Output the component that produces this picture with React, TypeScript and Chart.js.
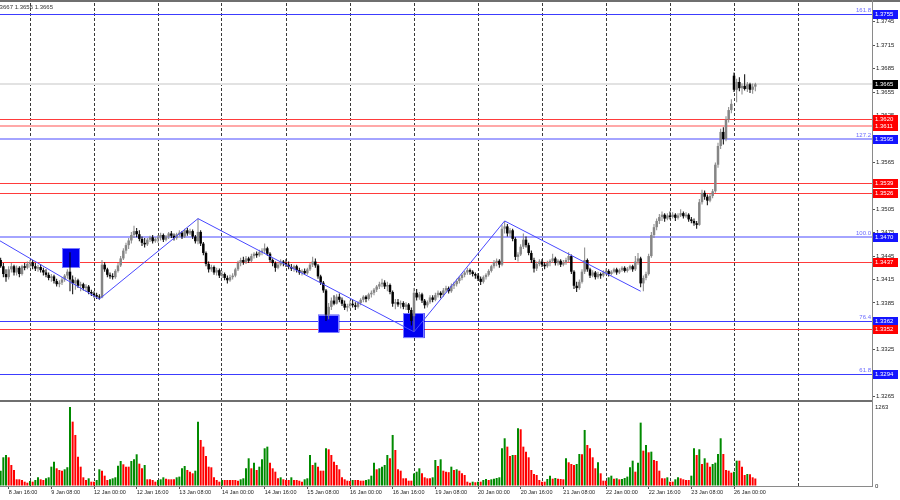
import React, { useEffect, useRef } from 'react';
import { Chart, registerables } from 'chart.js';
Chart.register(...registerables);

type OHLC = [number, number, number, number]; // open, high, low, close

// Hourly candles, first bar = 8 Jan 12:00 (bar index 0), one array per trading day
const jan08: OHLC[] = [
  [1.3446,1.3450,1.3438,1.3440],[1.3440,1.3443,1.3430,1.3432],[1.3432,1.3436,1.3418,1.3422],[1.3422,1.3428,1.3412,1.3418],
  [1.3418,1.3432,1.3415,1.3428],[1.3428,1.3436,1.3424,1.3432],[1.3432,1.3434,1.3420,1.3424],[1.3424,1.3433,1.3420,1.3430],
  [1.3430,1.3432,1.3418,1.3422],[1.3422,1.3434,1.3420,1.3432],[1.3432,1.3436,1.3427,1.3430],[1.3430,1.3438,1.3428,1.3435],
];
const jan09: OHLC[] = [
  [1.3435,1.3440,1.3430,1.3437],[1.3437,1.3440,1.3428,1.3432],[1.3432,1.3436,1.3426,1.3429],[1.3429,1.3434,1.3425,1.3431],
  [1.3431,1.3435,1.3424,1.3427],[1.3427,1.3430,1.3420,1.3424],[1.3424,1.3428,1.3418,1.3421],[1.3421,1.3424,1.3414,1.3417],
  [1.3417,1.3422,1.3412,1.3419],[1.3419,1.3421,1.3410,1.3413],[1.3413,1.3416,1.3406,1.3409],[1.3409,1.3414,1.3405,1.3411],
  [1.3411,1.3418,1.3408,1.3415],[1.3415,1.3422,1.3412,1.3420],[1.3420,1.3428,1.3416,1.3425],[1.3425,1.3450,1.3400,1.3415],
  [1.3415,1.3420,1.3396,1.3410],[1.3410,1.3418,1.3402,1.3414],[1.3414,1.3416,1.3404,1.3407],[1.3407,1.3412,1.3400,1.3409],
  [1.3409,1.3411,1.3401,1.3404],[1.3404,1.3409,1.3399,1.3406],[1.3406,1.3408,1.3396,1.3399],[1.3399,1.3402,1.3394,1.3397],
];
const jan12: OHLC[] = [
  [1.3397,1.3400,1.3392,1.3395],[1.3395,1.3398,1.3390,1.3393],[1.3393,1.3396,1.3389,1.3392],[1.3392,1.3440,1.3391,1.3434],
  [1.3434,1.3437,1.3425,1.3428],[1.3428,1.3430,1.3418,1.3421],[1.3421,1.3424,1.3416,1.3419],[1.3419,1.3423,1.3415,1.3418],
  [1.3418,1.3428,1.3416,1.3426],[1.3426,1.3436,1.3424,1.3433],[1.3433,1.3445,1.3431,1.3442],[1.3442,1.3455,1.3440,1.3452],
  [1.3452,1.3462,1.3448,1.3459],[1.3459,1.3468,1.3454,1.3465],[1.3465,1.3476,1.3461,1.3472],[1.3472,1.3484,1.3468,1.3477],
  [1.3477,1.3481,1.3469,1.3473],[1.3473,1.3478,1.3464,1.3467],[1.3467,1.3470,1.3458,1.3462],[1.3462,1.3468,1.3456,1.3460],
  [1.3460,1.3468,1.3458,1.3466],[1.3466,1.3471,1.3463,1.3469],[1.3469,1.3472,1.3461,1.3464],[1.3464,1.3469,1.3462,1.3467],
];
const jan13: OHLC[] = [
  [1.3467,1.3472,1.3462,1.3469],[1.3469,1.3475,1.3465,1.3472],[1.3472,1.3474,1.3463,1.3466],[1.3466,1.3472,1.3464,1.3470],
  [1.3470,1.3476,1.3467,1.3474],[1.3474,1.3477,1.3468,1.3471],[1.3471,1.3474,1.3465,1.3468],[1.3468,1.3475,1.3466,1.3473],
  [1.3473,1.3478,1.3470,1.3475],[1.3475,1.3477,1.3467,1.3470],[1.3470,1.3480,1.3468,1.3478],[1.3478,1.3481,1.3471,1.3474],
  [1.3474,1.3480,1.3472,1.3477],[1.3477,1.3479,1.3467,1.3470],[1.3470,1.3472,1.3461,1.3464],[1.3464,1.3493,1.3460,1.3476],
  [1.3476,1.3478,1.3458,1.3461],[1.3461,1.3463,1.3446,1.3449],[1.3449,1.3451,1.3432,1.3435],[1.3435,1.3438,1.3424,1.3428],
  [1.3428,1.3434,1.3425,1.3431],[1.3431,1.3433,1.3421,1.3424],[1.3424,1.3430,1.3420,1.3427],[1.3427,1.3429,1.3417,1.3420],
];
const jan14: OHLC[] = [
  [1.3420,1.3426,1.3417,1.3422],[1.3422,1.3424,1.3414,1.3417],[1.3417,1.3420,1.3410,1.3414],[1.3414,1.3421,1.3412,1.3418],
  [1.3418,1.3423,1.3415,1.3420],[1.3420,1.3430,1.3418,1.3428],[1.3428,1.3439,1.3426,1.3436],[1.3436,1.3443,1.3432,1.3440],
  [1.3440,1.3444,1.3434,1.3437],[1.3437,1.3445,1.3435,1.3442],[1.3442,1.3444,1.3436,1.3439],[1.3439,1.3448,1.3437,1.3445],
  [1.3445,1.3450,1.3442,1.3448],[1.3448,1.3451,1.3443,1.3446],[1.3446,1.3453,1.3444,1.3450],[1.3450,1.3455,1.3446,1.3452],
  [1.3452,1.3461,1.3448,1.3455],[1.3455,1.3457,1.3445,1.3448],[1.3448,1.3450,1.3437,1.3440],[1.3440,1.3442,1.3432,1.3436],
  [1.3436,1.3438,1.3425,1.3430],[1.3430,1.3437,1.3428,1.3434],[1.3434,1.3441,1.3432,1.3438],[1.3438,1.3440,1.3432,1.3436],
];
const jan15: OHLC[] = [
  [1.3436,1.3441,1.3431,1.3434],[1.3434,1.3438,1.3428,1.3431],[1.3431,1.3435,1.3426,1.3429],[1.3429,1.3434,1.3425,1.3432],
  [1.3432,1.3434,1.3424,1.3427],[1.3427,1.3430,1.3421,1.3424],[1.3424,1.3428,1.3420,1.3426],[1.3426,1.3429,1.3421,1.3423],
  [1.3423,1.3430,1.3421,1.3428],[1.3428,1.3436,1.3426,1.3434],[1.3434,1.3444,1.3431,1.3438],[1.3438,1.3442,1.3430,1.3433],
  [1.3433,1.3435,1.3416,1.3419],[1.3419,1.3421,1.3408,1.3411],[1.3411,1.3413,1.3398,1.3401],[1.3401,1.3403,1.3362,1.3370],
  [1.3370,1.3385,1.3364,1.3380],[1.3380,1.3392,1.3376,1.3388],[1.3388,1.3395,1.3382,1.3384],[1.3384,1.3396,1.3383,1.3393],
  [1.3393,1.3397,1.3386,1.3389],[1.3389,1.3392,1.3381,1.3384],[1.3384,1.3388,1.3376,1.3379],[1.3379,1.3384,1.3374,1.3381],
];
const jan16: OHLC[] = [
  [1.3381,1.3388,1.3378,1.3384],[1.3384,1.3389,1.3379,1.3382],[1.3382,1.3386,1.3376,1.3380],[1.3380,1.3387,1.3378,1.3385],
  [1.3385,1.3391,1.3382,1.3389],[1.3389,1.3395,1.3386,1.3393],[1.3393,1.3395,1.3386,1.3390],[1.3390,1.3398,1.3388,1.3396],
  [1.3396,1.3401,1.3392,1.3398],[1.3398,1.3404,1.3395,1.3402],[1.3402,1.3408,1.3399,1.3406],[1.3406,1.3412,1.3403,1.3409],
  [1.3409,1.3416,1.3405,1.3411],[1.3411,1.3414,1.3403,1.3406],[1.3406,1.3412,1.3400,1.3408],[1.3408,1.3410,1.3396,1.3399],
  [1.3399,1.3401,1.3380,1.3384],[1.3384,1.3390,1.3377,1.3386],[1.3386,1.3390,1.3380,1.3383],[1.3383,1.3388,1.3378,1.3385],
  [1.3385,1.3387,1.3377,1.3380],[1.3380,1.3386,1.3376,1.3383],[1.3383,1.3385,1.3372,1.3376],[1.3376,1.3379,1.3356,1.3362],
];
const jan19: OHLC[] = [
  [1.3368,1.3404,1.3348,1.3398],[1.3398,1.3403,1.3388,1.3392],[1.3392,1.3399,1.3389,1.3396],[1.3396,1.3398,1.3385,1.3388],
  [1.3388,1.3390,1.3378,1.3382],[1.3382,1.3388,1.3379,1.3386],[1.3386,1.3395,1.3384,1.3392],[1.3392,1.3395,1.3386,1.3389],
  [1.3389,1.3398,1.3387,1.3395],[1.3395,1.3401,1.3392,1.3398],[1.3398,1.3400,1.3391,1.3395],[1.3395,1.3404,1.3393,1.3401],
  [1.3401,1.3407,1.3398,1.3404],[1.3404,1.3406,1.3397,1.3400],[1.3400,1.3410,1.3398,1.3407],[1.3407,1.3412,1.3403,1.3409],
  [1.3409,1.3416,1.3406,1.3413],[1.3413,1.3419,1.3410,1.3417],[1.3417,1.3423,1.3414,1.3421],[1.3421,1.3426,1.3418,1.3424],
  [1.3424,1.3430,1.3421,1.3427],[1.3427,1.3429,1.3421,1.3425],[1.3425,1.3427,1.3419,1.3422],[1.3422,1.3424,1.3416,1.3420],
];
const jan20: OHLC[] = [
  [1.3420,1.3423,1.3413,1.3416],[1.3416,1.3419,1.3408,1.3412],[1.3412,1.3420,1.3410,1.3418],[1.3418,1.3423,1.3415,1.3421],
  [1.3421,1.3428,1.3419,1.3426],[1.3426,1.3434,1.3424,1.3432],[1.3432,1.3440,1.3429,1.3437],[1.3437,1.3442,1.3432,1.3439],
  [1.3439,1.3441,1.3430,1.3434],[1.3434,1.3485,1.3432,1.3480],[1.3480,1.3490,1.3474,1.3483],[1.3483,1.3486,1.3470,1.3474],
  [1.3474,1.3481,1.3470,1.3478],[1.3478,1.3480,1.3464,1.3467],[1.3467,1.3469,1.3440,1.3444],[1.3444,1.3450,1.3438,1.3447],
  [1.3447,1.3460,1.3445,1.3457],[1.3457,1.3474,1.3454,1.3466],[1.3466,1.3470,1.3456,1.3459],[1.3459,1.3462,1.3446,1.3449],
  [1.3449,1.3452,1.3436,1.3440],[1.3440,1.3443,1.3424,1.3429],[1.3429,1.3438,1.3426,1.3435],[1.3435,1.3441,1.3432,1.3438],
];
const jan21: OHLC[] = [
  [1.3438,1.3441,1.3431,1.3434],[1.3434,1.3437,1.3428,1.3432],[1.3432,1.3439,1.3430,1.3436],[1.3436,1.3441,1.3432,1.3439],
  [1.3439,1.3448,1.3436,1.3442],[1.3442,1.3444,1.3433,1.3436],[1.3436,1.3441,1.3433,1.3439],[1.3439,1.3441,1.3431,1.3434],
  [1.3434,1.3440,1.3432,1.3437],[1.3437,1.3443,1.3434,1.3440],[1.3440,1.3450,1.3437,1.3445],[1.3445,1.3447,1.3422,1.3425],
  [1.3425,1.3427,1.3403,1.3407],[1.3407,1.3412,1.3399,1.3404],[1.3404,1.3415,1.3402,1.3412],[1.3412,1.3428,1.3410,1.3425],
  [1.3425,1.3456,1.3422,1.3440],[1.3440,1.3442,1.3425,1.3428],[1.3428,1.3430,1.3417,1.3420],[1.3420,1.3427,1.3418,1.3424],
  [1.3424,1.3426,1.3415,1.3418],[1.3418,1.3425,1.3416,1.3422],[1.3422,1.3424,1.3416,1.3420],[1.3420,1.3427,1.3418,1.3424],
];
const jan22: OHLC[] = [
  [1.3424,1.3429,1.3421,1.3426],[1.3426,1.3428,1.3419,1.3422],[1.3422,1.3427,1.3420,1.3425],[1.3425,1.3430,1.3423,1.3428],
  [1.3428,1.3430,1.3421,1.3424],[1.3424,1.3429,1.3422,1.3427],[1.3427,1.3432,1.3425,1.3430],[1.3430,1.3432,1.3424,1.3426],
  [1.3426,1.3431,1.3424,1.3429],[1.3429,1.3434,1.3427,1.3432],[1.3432,1.3434,1.3425,1.3428],[1.3428,1.3445,1.3426,1.3438],
  [1.3438,1.3449,1.3434,1.3442],[1.3442,1.3444,1.3405,1.3410],[1.3410,1.3420,1.3400,1.3417],[1.3417,1.3425,1.3414,1.3422],
  [1.3422,1.3448,1.3420,1.3445],[1.3445,1.3476,1.3443,1.3472],[1.3472,1.3486,1.3468,1.3482],[1.3482,1.3493,1.3478,1.3490],
  [1.3490,1.3499,1.3486,1.3495],[1.3495,1.3502,1.3490,1.3498],[1.3498,1.3500,1.3489,1.3493],[1.3493,1.3500,1.3491,1.3497],
];
const jan23: OHLC[] = [
  [1.3497,1.3502,1.3492,1.3495],[1.3495,1.3501,1.3493,1.3498],[1.3498,1.3500,1.3490,1.3494],[1.3494,1.3500,1.3492,1.3497],
  [1.3497,1.3505,1.3495,1.3500],[1.3500,1.3502,1.3493,1.3496],[1.3496,1.3501,1.3494,1.3498],[1.3498,1.3500,1.3489,1.3492],
  [1.3492,1.3495,1.3487,1.3490],[1.3490,1.3493,1.3484,1.3487],[1.3487,1.3490,1.3480,1.3485],[1.3485,1.3518,1.3484,1.3514],
  [1.3514,1.3530,1.3511,1.3526],[1.3526,1.3529,1.3517,1.3521],[1.3521,1.3524,1.3510,1.3516],[1.3516,1.3525,1.3514,1.3522],
  [1.3522,1.3531,1.3519,1.3528],[1.3528,1.3565,1.3526,1.3562],[1.3562,1.3590,1.3558,1.3586],[1.3586,1.3608,1.3582,1.3604],
  [1.3604,1.3610,1.3588,1.3595],[1.3595,1.3624,1.3592,1.3620],[1.3620,1.3636,1.3616,1.3632],[1.3632,1.3646,1.3628,1.3640],
];
const jan26: OHLC[] = [
  [1.3676,1.3680,1.3655,1.3658],[1.3658,1.3672,1.3642,1.3668],[1.3668,1.3674,1.3656,1.3660],[1.3660,1.3666,1.3652,1.3663],
  [1.3663,1.3678,1.3657,1.3659],[1.3659,1.3668,1.3655,1.3665],[1.3665,1.3667,1.3654,1.3658],[1.3658,1.3666,1.3653,1.3662],
  [1.3662,1.3667,1.3656,1.3665],
];

// Tick volumes per bar, same order
const vol08 = [229,245,459,496,459,336,256,107,107,96,69,53];
const vol09 = [80,69,96,139,107,96,123,139,309,389,283,256,245,267,300,1263,1029,816,469,309,139,96,123,69];
const vol12 = [69,96,267,245,165,96,107,123,139,325,400,347,309,309,400,427,507,357,283,336,107,107,96,69];
const vol13 = [96,107,139,117,107,107,107,139,150,283,320,256,229,203,245,1029,736,629,480,309,299,139,96,69];
const vol14 = [96,96,96,96,96,96,85,107,123,283,443,283,373,256,309,427,603,629,373,283,229,123,139,107];
const vol15 = [96,96,139,96,96,85,69,107,123,496,336,373,309,245,245,603,587,496,389,336,267,139,107,85];
const vol16 = [80,96,96,96,85,85,96,107,165,373,267,283,309,336,496,443,816,576,267,245,123,123,85,85];
const vol19 = [200,229,283,203,139,123,123,139,416,320,427,245,229,221,309,256,267,245,203,176,69,53,69,60];
const vol20 = [69,69,96,112,96,107,117,128,139,603,763,629,480,496,496,923,907,629,549,459,256,192,176,96];
const vol21 = [69,69,112,165,117,128,117,112,107,443,379,352,336,352,512,507,896,656,603,459,283,379,203,85];
const vol22 = [85,139,165,117,123,107,112,128,150,299,405,229,373,1013,565,656,539,549,416,400,245,123,123,139];
const vol23 = [69,69,107,139,123,107,96,96,165,603,496,587,352,443,373,309,352,373,512,763,512,256,245,213];
const vol26 = [229,405,405,309,176,192,187,139,120];

// Time axis (bar indices) and labels
const timeLabels = ['8 Jan 16:00','9 Jan 08:00','12 Jan 00:00','12 Jan 16:00','13 Jan 08:00','14 Jan 00:00','14 Jan 16:00','15 Jan 08:00','16 Jan 00:00','16 Jan 16:00','19 Jan 08:00','20 Jan 00:00','20 Jan 16:00','21 Jan 08:00','22 Jan 00:00','22 Jan 16:00','23 Jan 08:00','26 Jan 00:00'];
const timeLabelBars = [4,20,36,52,68,84,100,116,132,148,164,180,196,212,228,244,260,276];
const dayStartBars = [12,36,60,84,108,132,156,180,204,228,252,276,300];

// Price axis ticks
const priceTicks = [1.3265,1.3295,1.3325,1.3355,1.3385,1.3415,1.3445,1.3475,1.3505,1.3535,1.3565,1.3595,1.3625,1.3655,1.3685,1.3715,1.3745];
const volumeTicks = [0, 1263];

// Horizontal levels
const levelPrices = [1.3755,1.3665,1.3620,1.3611,1.3595,1.3539,1.3526,1.3470,1.3437,1.3362,1.3352,1.3294];
const fiboPrices = [1.3755,1.3595,1.3470,1.3362,1.3294];
const fiboTexts = ['161.8','127.2','100.0','76.4','61.8'];

// Zigzag vertices (bar index, price)
const zigzagBars = [-12,38,75,156,190,241];
const zigzagPrices = [1.3490,1.3390,1.3493,1.3348,1.3490,1.3400];

// Marked boxes (bar range, price range)
const boxStartBars = [24,120,152];
const boxEndBars = [30.75,128,160];
const boxTopPrices = [1.3455,1.3370,1.3372];
const boxBottomPrices = [1.3430,1.3347,1.3340];

const headerText = 'GBPUSD,H1  1.3660 1.3667 1.3656 1.3665';

// ---- styles (kept apart from the data) ----
const levelLook: { color: string; width: number; tag: string }[] = [
  { color: '#3c3cff', width: 1, tag: '#1414ff' },
  { color: '#e2e2e2', width: 2, tag: '#000000' },
  { color: '#ff3b3b', width: 1, tag: '#ff0000' },
  { color: '#ffa8a8', width: 2, tag: '#ff0000' },
  { color: '#a4a4ff', width: 2, tag: '#1414ff' },
  { color: '#ff3b3b', width: 1, tag: '#ff0000' },
  { color: '#ff3b3b', width: 1, tag: '#ff0000' },
  { color: '#a4a4ff', width: 2, tag: '#1414ff' },
  { color: '#ff3b3b', width: 1, tag: '#ff0000' },
  { color: '#3c3cff', width: 1, tag: '#1414ff' },
  { color: '#ff3b3b', width: 1, tag: '#ff0000' },
  { color: '#3c3cff', width: 1, tag: '#1414ff' },
];
const FONT = '"Liberation Sans", Arial, sans-serif';
const X_MIN = 0.75;
const X_MAX = 327.75;
const P_MIN = 1.32607;
const P_MAX = 1.37691;
const V_MAX = 1327;
const BULL = '#858585';
const BEAR = '#000000';

const candles: OHLC[] = [jan08, jan09, jan12, jan13, jan14, jan15, jan16, jan19, jan20, jan21, jan22, jan23, jan26].flat();
const volumes: number[] = [vol08, vol09, vol12, vol13, vol14, vol15, vol16, vol19, vol20, vol21, vol22, vol23, vol26].flat();

const noPad = (s: any) => { s.paddingTop = 0; s.paddingBottom = 0; s.paddingLeft = 0; s.paddingRight = 0; };

const mainPlugin = {
  id: 'mt4main',
  beforeDatasetsDraw(chart: any) {
    const { ctx, chartArea, scales } = chart;
    const y = scales.y, x = scales.x;
    ctx.save();
    ctx.beginPath();
    ctx.rect(chartArea.left, chartArea.top, chartArea.right - chartArea.left, chartArea.bottom - chartArea.top);
    ctx.clip();
    levelPrices.forEach((p, i) => {
      const look = levelLook[i];
      let py = y.getPixelForValue(p);
      if (look.width === 1) py = Math.round(py) + 0.5; else py = Math.round(py);
      ctx.strokeStyle = look.color;
      ctx.lineWidth = look.width;
      ctx.beginPath();
      ctx.moveTo(chartArea.left, py);
      ctx.lineTo(chartArea.right, py);
      ctx.stroke();
    });
    boxStartBars.forEach((b, i) => {
      const x0 = x.getPixelForValue(b), x1 = x.getPixelForValue(boxEndBars[i]);
      const y0 = y.getPixelForValue(boxTopPrices[i]), y1 = y.getPixelForValue(boxBottomPrices[i]);
      ctx.fillStyle = '#0000f0';
      ctx.fillRect(x0, y0, x1 - x0, y1 - y0);
      ctx.strokeStyle = '#7a7aff';
      ctx.lineWidth = 1;
      ctx.strokeRect(Math.round(x0) + 0.5, Math.round(y0) + 0.5, Math.round(x1 - x0) - 1, Math.round(y1 - y0) - 1);
    });
    ctx.restore();
  },
  afterDatasetsDraw(chart: any) {
    const { ctx, chartArea, scales } = chart;
    ctx.save();
    ctx.font = `6px ${FONT}`;
    ctx.fillStyle = '#6a6aff';
    ctx.textAlign = 'right';
    ctx.textBaseline = 'bottom';
    fiboPrices.forEach((p, i) => {
      ctx.fillText(fiboTexts[i], chartArea.right - 1, Math.round(scales.y.getPixelForValue(p)) - 1);
    });
    ctx.restore();
  },
  afterDraw(chart: any) {
    const { ctx, chartArea, scales } = chart;
    ctx.save();
    // frame
    ctx.fillStyle = '#6f6f6f';
    ctx.fillRect(0, 0, 900, 2);
    ctx.fillStyle = '#8a8a8a';
    ctx.fillRect(chartArea.right, 0, 1, chartArea.bottom);
    // axis tags for levels
    ctx.font = `6px ${FONT}`;
    ctx.textAlign = 'left';
    ctx.textBaseline = 'middle';
    levelPrices.forEach((p, i) => {
      const py = Math.round(scales.y.getPixelForValue(p));
      ctx.fillStyle = levelLook[i].tag;
      ctx.fillRect(chartArea.right + 1, py - 4, 25, 9);
      ctx.fillStyle = '#ffffff';
      ctx.fillText(p.toFixed(4), chartArea.right + 3, py + 0.5);
    });
    // header text (clipped at left edge)
    ctx.fillStyle = '#333333';
    ctx.textAlign = 'right';
    ctx.textBaseline = 'middle';
    ctx.fillText(headerText, 53, 7);
    ctx.restore();
  },
};

const volPlugin = {
  id: 'mt4vol',
  afterDraw(chart: any) {
    const { ctx, chartArea } = chart;
    ctx.save();
    ctx.fillStyle = '#6f6f6f';
    ctx.fillRect(0, 0, chartArea.right + 1, 2);
    ctx.fillStyle = '#8a8a8a';
    ctx.fillRect(0, Math.round(chartArea.bottom), chartArea.right + 1, 1);
    ctx.fillRect(chartArea.right, 0, 1, chartArea.bottom);
    ctx.restore();
  },
};

export default function App() {
  const mainRef = useRef<HTMLCanvasElement>(null);
  const volRef = useRef<HTMLCanvasElement>(null);

  useEffect(() => {
    document.body.style.margin = '0';
    const candleColors = candles.map((c) => (c[3] >= c[0] ? BULL : BEAR));
    const main = new Chart(mainRef.current!, {
      type: 'bar',
      data: {
        datasets: [
          {
            type: 'line',
            label: 'zigzag',
            data: zigzagBars.map((b, i) => ({ x: b, y: zigzagPrices[i] })),
            borderColor: '#4848ff',
            borderWidth: 1,
            pointRadius: 0,
            order: 0,
          } as any,
          {
            label: 'wicks',
            data: candles.map((c, i) => ({ x: i, y: [c[2], c[1]] })),
            backgroundColor: candleColors,
            barThickness: 1,
            grouped: false,
            inflateAmount: 0,
            order: 2,
          } as any,
          {
            label: 'bodies',
            data: candles.map((c, i) => ({ x: i, y: [c[0], c[3]] })),
            backgroundColor: candleColors,
            barThickness: 2.5,
            grouped: false,
            minBarLength: 1,
            inflateAmount: 0,
            order: 1,
          } as any,
        ],
      },
      options: {
        animation: false,
        responsive: false,
        maintainAspectRatio: false,
        layout: { padding: { top: 3, bottom: 0, left: 0, right: 0 } },
        plugins: { legend: { display: false }, tooltip: { enabled: false } },
        scales: {
          x: {
            type: 'linear',
            min: X_MIN,
            max: X_MAX,
            offset: false,
            afterBuildTicks: (s: any) => { s.ticks = dayStartBars.map((v) => ({ value: v })); },
            afterFit: (s: any) => { s.height = 0; noPad(s); },
            ticks: { display: false },
            grid: { color: '#3a3a3a', offset: false, drawTicks: false, lineWidth: 1 },
            border: { display: false, dash: [3, 2] },
          },
          y: {
            type: 'linear',
            position: 'right',
            min: P_MIN,
            max: P_MAX,
            afterBuildTicks: (s: any) => { s.ticks = priceTicks.map((v) => ({ value: v })); },
            afterFit: (s: any) => { s.width = 28; noPad(s); },
            ticks: {
              autoSkip: false,
              padding: 1,
              color: '#222',
              font: { size: 6, family: FONT },
              callback: (v: any) => Number(v).toFixed(4),
            },
            grid: { drawOnChartArea: false, drawTicks: true, tickLength: 3, color: '#555' },
            border: { display: false },
          },
        },
      } as any,
      plugins: [mainPlugin],
    });

    const volColors = volumes.map((v, i) => (i === 0 || v > volumes[i - 1] ? '#008a00' : '#ff0000'));
    const labelAt = new Map<number, string>();
    timeLabelBars.forEach((b, i) => labelAt.set(b, timeLabels[i]));
    const daySet = new Set(dayStartBars);
    const xTicks = Array.from(new Set([...timeLabelBars, ...dayStartBars])).sort((a, b) => a - b);

    const vol = new Chart(volRef.current!, {
      type: 'bar',
      data: {
        datasets: [
          {
            label: 'volume',
            data: volumes.map((v, i) => ({ x: i, y: v })),
            backgroundColor: volColors,
            barThickness: 2,
            inflateAmount: 0,
          } as any,
        ],
      },
      options: {
        animation: false,
        responsive: false,
        maintainAspectRatio: false,
        layout: { padding: { top: 3, bottom: 0, left: 0, right: 0 } },
        plugins: { legend: { display: false }, tooltip: { enabled: false } },
        scales: {
          x: {
            type: 'linear',
            min: X_MIN,
            max: X_MAX,
            offset: false,
            afterBuildTicks: (s: any) => { s.ticks = xTicks.map((v) => ({ value: v })); },
            afterFit: (s: any) => { s.height = 14; noPad(s); },
            ticks: {
              autoSkip: false,
              maxRotation: 0,
              minRotation: 0,
              align: 'start',
              padding: 0,
              color: '#222',
              font: { size: 5.5, family: FONT },
              callback: (v: any) => labelAt.get(Number(v)) ?? '',
            },
            grid: {
              offset: false,
              drawTicks: true,
              tickLength: 3,
              lineWidth: 1,
              color: (c: any) => (c.tick && daySet.has(c.tick.value) ? '#3a3a3a' : 'rgba(0,0,0,0)'),
              tickColor: (c: any) => (c.tick && labelAt.has(c.tick.value) ? '#555' : 'rgba(0,0,0,0)'),
            },
            border: { display: false, dash: [3, 2] },
          },
          y: {
            type: 'linear',
            position: 'right',
            min: 0,
            max: V_MAX,
            afterBuildTicks: (s: any) => { s.ticks = volumeTicks.map((v) => ({ value: v })); },
            afterFit: (s: any) => { s.width = 28; noPad(s); },
            ticks: {
              autoSkip: false,
              padding: 3,
              color: '#222',
              font: { size: 6, family: FONT },
              callback: (v: any) => String(v),
            },
            grid: { drawOnChartArea: false, drawTicks: false },
            border: { display: false },
          },
        },
      } as any,
      plugins: [volPlugin],
    });

    return () => {
      main.destroy();
      vol.destroy();
    };
  }, []);

  return (
    <div style={{ position: 'fixed', left: 0, top: 0, width: 900, height: 500, background: '#fff' }}>
      <canvas ref={mainRef} width={900} height={400} style={{ position: 'absolute', left: 0, top: 0, width: 900, height: 400 }} />
      <canvas ref={volRef} width={900} height={100} style={{ position: 'absolute', left: 0, top: 400, width: 900, height: 100 }} />
    </div>
  );
}
